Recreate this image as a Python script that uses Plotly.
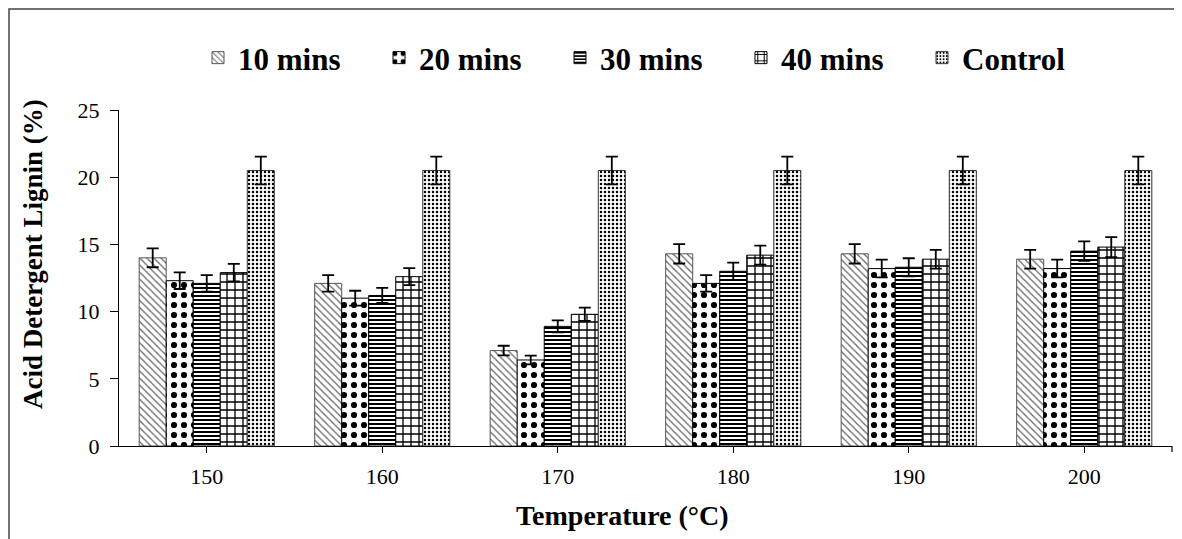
import plotly.graph_objects as go

categories = ["150", "160", "170", "180", "190", "200"]
series_names = ["10 mins", "20 mins", "30 mins", "40 mins", "Control"]
v10 = [14.0, 12.1, 7.1, 14.3, 14.3, 13.9]
v20 = [12.3, 11.0, 6.4, 12.1, 13.2, 13.2]
v30 = [12.1, 11.2, 8.9, 13.0, 13.3, 14.5]
v40 = [12.9, 12.6, 9.8, 14.2, 13.9, 14.8]
vctrl = [20.5, 20.5, 20.5, 20.5, 20.5, 20.5]
e10 = [0.70, 0.61, 0.36, 0.72, 0.72, 0.70]
e20 = [0.62, 0.55, 0.32, 0.61, 0.66, 0.66]
e30 = [0.61, 0.56, 0.45, 0.65, 0.67, 0.73]
e40 = [0.65, 0.63, 0.49, 0.71, 0.70, 0.74]
ectrl = [1.03, 1.03, 1.03, 1.03, 1.03, 1.03]
x_title = "Temperature (°C)"
y_title = "Acid Detergent Lignin (%)"

values = [v10, v20, v30, v40, vctrl]
errors = [e10, e20, e30, e40, ectrl]
patterns = [
    dict(shape="\\", fgcolor="#666666", bgcolor="white", size=5, solidity=0.25, fgopacity=1),
    dict(shape=".", fgcolor="black", bgcolor="white", size=10, solidity=0.3, fgopacity=1),
    dict(shape="-", fgcolor="black", bgcolor="white", size=4, solidity=0.5, fgopacity=1),
    dict(shape="+", fgcolor="black", bgcolor="white", size=8, solidity=0.3, fgopacity=1),
    dict(shape=".", fgcolor="black", bgcolor="white", size=4, solidity=0.3, fgopacity=1),
]
line_colors = ["#555555", "black", "black", "black", "#333333"]

FONT = "Times New Roman, Liberation Serif, serif"

fig = go.Figure()
for name, vals, errs, pat, lc in zip(series_names, values, errors, patterns, line_colors):
    fig.add_trace(go.Bar(
        name=name, x=categories, y=vals,
        marker=dict(color="white", pattern=pat, line=dict(color=lc, width=1)),
        error_y=dict(type="data", array=errs, visible=True, color="black", thickness=1.8, width=6),
    ))

W, H = 1182, 539
OFF = 8  # page body margin
# target plot area in screen pixels
sx0, sx1, sy0, sy1 = 119, 1172, 110, 446
ml = sx0 - OFF
mr = W - (sx1 - OFF)
mt = sy0 - OFF
mb = H - (sy1 - OFF)
pw = W - ml - mr
ph = H - mt - mb

def px_x(x):
    return (x - OFF - ml) / pw

def px_y(y):
    return (H - mb - (y - OFF)) / ph

fig.update_layout(
    width=W, height=H,
    margin=dict(l=ml, r=mr, t=mt, b=mb, autoexpand=False),
    paper_bgcolor="white", plot_bgcolor="white",
    barmode="group", bargap=0.23, bargroupgap=0,
    font=dict(family=FONT, color="black", size=22),
    legend=dict(
        orientation="h", x=px_x(198), y=px_y(58), yanchor="middle", xanchor="left",
        font=dict(family=FONT, size=31, weight="bold"),
        entrywidth=136, entrywidthmode="pixels", itemwidth=30,
        bgcolor="rgba(0,0,0,0)",
    ),
    xaxis=dict(
        type="category", showline=True, linecolor="black", linewidth=1.2,
        ticks="outside", ticklen=6, tickcolor="black",
        tickfont=dict(family=FONT, size=22), ticklabelstandoff=4,
        showgrid=False, automargin=False,
    ),
    yaxis=dict(
        range=[0, 25], tickvals=[0, 5, 10, 15, 20, 25],
        showline=True, linecolor="black", linewidth=1.2,
        ticks="outside", ticklen=8, tickcolor="black",
        tickfont=dict(family=FONT, size=22), ticklabelstandoff=6,
        showgrid=False, zeroline=False, automargin=False,
    ),
    annotations=[
        dict(text=f"<b>{x_title}</b>", xref="paper", yref="paper",
             x=px_x(622), y=px_y(515), xanchor="center", yanchor="middle",
             showarrow=False, font=dict(family=FONT, size=28)),
        dict(text=f"<b>{y_title}</b>", xref="paper", yref="paper",
             x=px_x(33), y=px_y(254), xanchor="center", yanchor="middle",
             textangle=-90, showarrow=False, font=dict(family=FONT, size=27)),
    ],
    shapes=[
        dict(type="path", xref="paper", yref="paper",
             path=f"M {px_x(OFF + 1)} {px_y(560)} L {px_x(OFF + 1)} {px_y(OFF + 1)} L {px_x(1177)} {px_y(OFF + 1)} L {px_x(1177)} {px_y(560)}",
             line=dict(color="#444444", width=1.5), layer="below"),
        dict(type="line", xref="paper", yref="paper",
             x0=1, x1=1, y0=0, y1=px_y(sy1 + 6),
             line=dict(color="black", width=1.2)),
    ],
)

fig.write_html("out.html")
